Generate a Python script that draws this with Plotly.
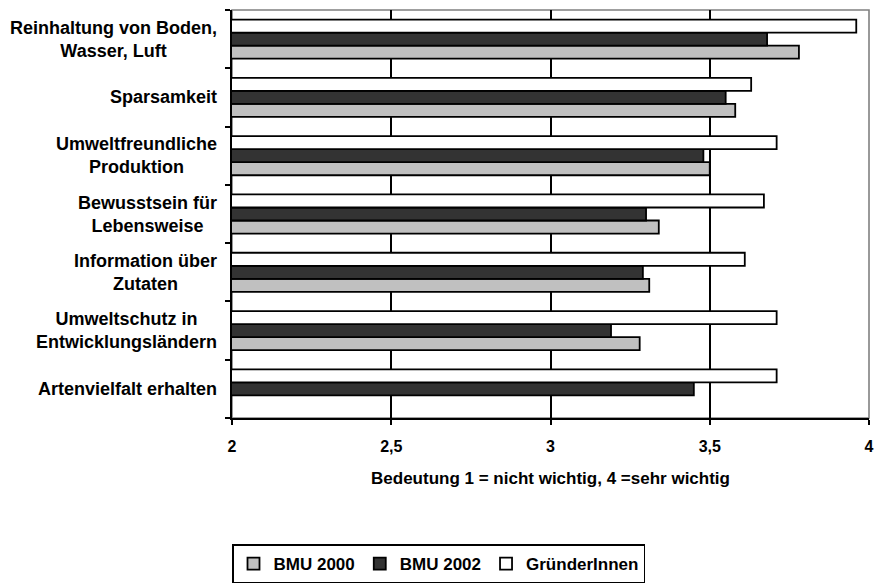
import plotly.graph_objects as go

categories = [
    "Reinhaltung von Boden,<br>Wasser, Luft",
    "Sparsamkeit",
    "Umweltfreundliche<br>Produktion",
    "Bewusstsein für<br>Lebensweise",
    "Information über<br>Zutaten",
    "Umweltschutz in<br>Entwicklungsländern",
    "Artenvielfalt erhalten",
]
bmu2000 = [3.78, 3.58, 3.50, 3.34, 3.31, 3.28, None]
bmu2002 = [3.68, 3.55, 3.48, 3.30, 3.29, 3.19, 3.45]
gruender = [3.96, 3.63, 3.71, 3.67, 3.61, 3.71, 3.71]

x_ticks = [2, 2.5, 3, 3.5, 4]
x_ticktext = ["2", "2,5", "3", "3,5", "4"]
x_title = "Bedeutung 1 = nicht wichtig, 4 =sehr wichtig"

FONT = "Arial, Liberation Sans, sans-serif"

fig = go.Figure()
series = [
    ("BMU 2000", bmu2000, "#C0C0C0"),
    ("BMU 2002", bmu2002, "#333333"),
    ("GründerInnen", gruender, "#FFFFFF"),
]
for name, vals, col in series:
    fig.add_trace(go.Bar(
        y=categories, x=vals, name=name, orientation="h",
        marker=dict(color=col, line=dict(color="black", width=1.8)),
    ))

for cat in categories:
    fig.add_annotation(
        xref="paper", yref="y", x=0, y=cat, text=cat,
        xanchor="right", yanchor="middle", align="center", xshift=-13,
        showarrow=False,
        font=dict(family=FONT, size=18, color="black", weight="bold"),
    )

fig.add_shape(type="rect", xref="paper", yref="paper", x0=0, y0=0, x1=1, y1=1,
              line=dict(color="#808080", width=1.6), layer="below")

fig.update_layout(
    width=874, height=588,
    margin=dict(l=232, r=5, t=10, b=170, autoexpand=False),
    paper_bgcolor="white", plot_bgcolor="white",
    barmode="group", bargap=0.33, bargroupgap=0,
    showlegend=True,
    legend=dict(
        orientation="h", x=0, xanchor="left", y=-0.31, yanchor="top",
        bordercolor="black", borderwidth=1.5, bgcolor="white",
        font=dict(family=FONT, size=17, color="black", weight="bold"),
        itemwidth=30,
    ),
    xaxis=dict(
        range=[2, 4], tickvals=x_ticks, ticktext=x_ticktext,
        showgrid=True, gridcolor="black", gridwidth=1.6,
        showline=True, linecolor="black", linewidth=1.6,
        ticks="outside", ticklen=5, tickwidth=1.6, tickcolor="black",
        ticklabelstandoff=8, automargin=False,
        tickfont=dict(family=FONT, size=16, color="black", weight="bold"),
        title=dict(text=x_title, standoff=18,
                   font=dict(family=FONT, size=17, color="black", weight="bold")),
        zeroline=False, fixedrange=True,
    ),
    yaxis=dict(
        categoryorder="array", categoryarray=categories[::-1],
        showticklabels=False, showgrid=False, automargin=False,
        showline=True, linecolor="black", linewidth=1.6,
        ticks="outside", ticklen=5, tickwidth=1.6, tickcolor="black",
        tickson="boundaries", zeroline=False, fixedrange=True,
    ),
)

fig.write_html(
    "out.html",
    config={"displayModeBar": False},
    post_script="document.body.style.margin='0';document.body.style.overflow='hidden';",
)
